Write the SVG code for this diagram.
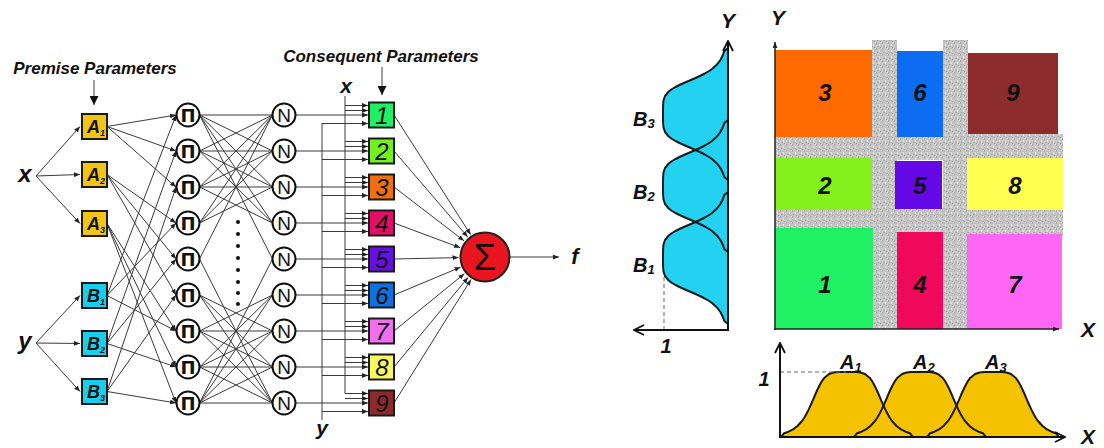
<svg xmlns="http://www.w3.org/2000/svg" width="1104" height="448" viewBox="0 0 1104 448">
<style>
text{font-family:"Liberation Sans",Arial,sans-serif;fill:#111}
.bi{font-weight:bold;font-style:italic}
.ln{stroke:#3a3a3a;stroke-width:1;fill:none}
.arr{marker-end:url(#ah)}
.circ{fill:#fff;stroke:#111;stroke-width:2}
.box{stroke:#1a1a1a;stroke-width:2}
.axis{stroke:#111;stroke-width:2;fill:none}
.pi{font-family:"DejaVu Sans",sans-serif;font-size:18px;font-weight:bold;text-anchor:middle}
.nn{font-size:19px;text-anchor:middle}
.num{font-size:24px;font-style:italic;text-anchor:middle}
.cell{font-size:24px;font-weight:bold;font-style:italic;text-anchor:middle}
.plab{font-size:18px;font-weight:bold;font-style:italic}
.sub{font-size:9px}
.gray{fill:url(#grain)}
.bfill{fill:#22d2f0;stroke:none}
.afill{fill:#f5c200;stroke:none}
.bstroke{fill:none;stroke:#1a1a1a;stroke-width:2;stroke-linejoin:round}
.dash{stroke:#666;stroke-width:1;stroke-dasharray:4 3;fill:none}
</style>
<defs>
<marker id="ah" viewBox="0 0 10 8" refX="10" refY="4" markerWidth="6" markerHeight="5" markerUnits="userSpaceOnUse" orient="auto"><path d="M0 0L10 4L0 8z" fill="#222"/></marker>
<marker id="big" viewBox="0 0 10 10" refX="10" refY="5" markerWidth="9" markerHeight="9" markerUnits="userSpaceOnUse" orient="auto"><path d="M0 0L10 5L0 10z" fill="#111"/></marker>
<marker id="open" viewBox="0 0 12 12" refX="11" refY="6" markerWidth="12" markerHeight="12" markerUnits="userSpaceOnUse" orient="auto"><path d="M1 1L11 6L1 11" fill="none" stroke="#111" stroke-width="1.8"/></marker>
<pattern id="grain" width="6" height="6" patternUnits="userSpaceOnUse">
<rect width="6" height="6" fill="#c6c6c6"/>
<rect x="0" y="0" width="1" height="2" fill="#a9a9a9"/>
<rect x="3" y="2" width="1" height="2" fill="#e4e4e4"/>
<rect x="1" y="4" width="2" height="1" fill="#b0b0b0"/>
<rect x="4" y="5" width="1" height="1" fill="#9e9e9e"/>
<rect x="5" y="0" width="1" height="1" fill="#ececec"/>
</pattern>
<path id="bell" d="M-66 0L-63 -3.7L-58.5 -5.3L-54 -7.6L-49.5 -11L-45 -16L-42.75 -19.3L-40.5 -23.2L-38.25 -27.6L-36 -32.5L-33.75 -37.7L-31.5 -43L-29.25 -48L-27 -52.5L-24.75 -56.4L-22.5 -59.3L-18 -63L-13.5 -64.5L-9 -64.9L-4.5 -65L0 -65L4.5 -65L9 -64.9L13.5 -64.5L18 -63L22.5 -59.3L24.75 -56.4L27 -52.5L29.25 -48L31.5 -43L33.75 -37.7L36 -32.5L38.25 -27.6L40.5 -23.2L42.75 -19.3L45 -16L49.5 -11L54 -7.6L58.5 -5.3L63 -3.7L66 0"/>
</defs>

<rect width="1104" height="448" fill="#fff"/>

<!-- labels -->
<g id="labels">
<text class="bi" x="95" y="74" font-size="17" text-anchor="middle">Premise Parameters</text>
<text class="bi" x="381" y="62" font-size="17" text-anchor="middle">Consequent Parameters</text>
<text class="bi" x="25" y="182" font-size="24" text-anchor="middle">x</text>
<text class="bi" x="25" y="349" font-size="24" text-anchor="middle">y</text>
<text class="bi" x="346" y="93" font-size="21" text-anchor="middle">x</text>
<text class="bi" x="322" y="435" font-size="21" text-anchor="middle">y</text>
<text class="bi" x="575" y="264" font-size="22" text-anchor="middle">f</text>
</g>

<!-- connectors -->
<g id="connectors">
<line class="ln" x1="94" y1="80" x2="94" y2="105" stroke-width="1.5" marker-end="url(#big)"/>
<line class="ln" x1="382" y1="67" x2="382" y2="95" stroke-width="1.5" marker-end="url(#big)"/>
<g class="ln arr">
<line x1="36" y1="176" x2="80" y2="126.5"/>
<line x1="36" y1="176" x2="80" y2="174.5"/>
<line x1="36" y1="176" x2="80" y2="223.5"/>
<line x1="36" y1="343" x2="80" y2="295.5"/>
<line x1="36" y1="343" x2="80" y2="343.5"/>
<line x1="36" y1="343" x2="80" y2="391.5"/>
<line x1="107" y1="126.5" x2="176" y2="115"/>
<line x1="107" y1="126.5" x2="176" y2="151"/>
<line x1="107" y1="126.5" x2="176" y2="187"/>
<line x1="107" y1="174.5" x2="176" y2="223"/>
<line x1="107" y1="174.5" x2="176" y2="259"/>
<line x1="107" y1="174.5" x2="176" y2="295"/>
<line x1="107" y1="223.5" x2="176" y2="331"/>
<line x1="107" y1="223.5" x2="176" y2="367"/>
<line x1="107" y1="223.5" x2="176" y2="403"/>
<line x1="107" y1="295.5" x2="176" y2="115"/>
<line x1="107" y1="295.5" x2="176" y2="223"/>
<line x1="107" y1="295.5" x2="176" y2="331"/>
<line x1="107" y1="343.5" x2="176" y2="151"/>
<line x1="107" y1="343.5" x2="176" y2="259"/>
<line x1="107" y1="343.5" x2="176" y2="367"/>
<line x1="107" y1="391.5" x2="176" y2="187"/>
<line x1="107" y1="391.5" x2="176" y2="295"/>
<line x1="107" y1="391.5" x2="176" y2="403"/>
</g>
<path class="ln" d="M199.5 115L272.5 115M199.5 115L272.5 151M199.5 115L272.5 187M199.5 151L272.5 115M199.5 151L272.5 151M199.5 151L272.5 187M199.5 187L272.5 115M199.5 187L272.5 151M199.5 187L272.5 187M199.5 223L272.5 115M199.5 223L272.5 151M199.5 223L272.5 187M199.5 115L272.5 223M199.5 151L272.5 223M199.5 187L272.5 223M199.5 259L272.5 115M199.5 115L272.5 259
M199.5 331L272.5 331M199.5 331L272.5 367M199.5 331L272.5 403M199.5 367L272.5 331M199.5 367L272.5 367M199.5 367L272.5 403M199.5 403L272.5 331M199.5 403L272.5 367M199.5 403L272.5 403M199.5 295L272.5 331M199.5 295L272.5 367M199.5 295L272.5 403M199.5 331L272.5 295M199.5 367L272.5 295M199.5 403L272.5 295M199.5 259L272.5 403M199.5 403L272.5 259"/>
<line class="ln" x1="345" y1="96" x2="345" y2="393.5"/>
<line class="ln" x1="322" y1="123.5" x2="322" y2="420"/>
<g class="ln arr">
<line x1="345" y1="105.5" x2="368" y2="105.5"/><line x1="345" y1="110.5" x2="368" y2="110.5"/><line x1="295.5" y1="115" x2="368" y2="115"/><line x1="322" y1="123.5" x2="368" y2="123.5"/>
<line x1="345" y1="141.5" x2="368" y2="141.5"/><line x1="345" y1="146.5" x2="368" y2="146.5"/><line x1="295.5" y1="151" x2="368" y2="151"/><line x1="322" y1="159.5" x2="368" y2="159.5"/>
<line x1="345" y1="177.5" x2="368" y2="177.5"/><line x1="345" y1="182.5" x2="368" y2="182.5"/><line x1="295.5" y1="187" x2="368" y2="187"/><line x1="322" y1="195.5" x2="368" y2="195.5"/>
<line x1="345" y1="213.5" x2="368" y2="213.5"/><line x1="345" y1="218.5" x2="368" y2="218.5"/><line x1="295.5" y1="223" x2="368" y2="223"/><line x1="322" y1="231.5" x2="368" y2="231.5"/>
<line x1="345" y1="249.5" x2="368" y2="249.5"/><line x1="345" y1="254.5" x2="368" y2="254.5"/><line x1="295.5" y1="259" x2="368" y2="259"/><line x1="322" y1="267.5" x2="368" y2="267.5"/>
<line x1="345" y1="285.5" x2="368" y2="285.5"/><line x1="345" y1="290.5" x2="368" y2="290.5"/><line x1="295.5" y1="295" x2="368" y2="295"/><line x1="322" y1="303.5" x2="368" y2="303.5"/>
<line x1="345" y1="321.5" x2="368" y2="321.5"/><line x1="345" y1="326.5" x2="368" y2="326.5"/><line x1="295.5" y1="331" x2="368" y2="331"/><line x1="322" y1="339.5" x2="368" y2="339.5"/>
<line x1="345" y1="357.5" x2="368" y2="357.5"/><line x1="345" y1="362.5" x2="368" y2="362.5"/><line x1="295.5" y1="367" x2="368" y2="367"/><line x1="322" y1="375.5" x2="368" y2="375.5"/>
<line x1="345" y1="393.5" x2="368" y2="393.5"/><line x1="345" y1="398.5" x2="368" y2="398.5"/><line x1="295.5" y1="403" x2="368" y2="403"/><line x1="322" y1="411.5" x2="368" y2="411.5"/>
<line x1="394" y1="115" x2="470.7" y2="234.7"/>
<line x1="394" y1="151" x2="467.7" y2="236.9"/>
<line x1="394" y1="187" x2="464" y2="240.8"/>
<line x1="394" y1="223" x2="460.2" y2="247.7"/>
<line x1="394" y1="259" x2="458.5" y2="257.6"/>
<line x1="394" y1="295" x2="460.5" y2="267.2"/>
<line x1="394" y1="331" x2="464.4" y2="273.7"/>
<line x1="394" y1="367" x2="468.1" y2="277.4"/>
<line x1="394" y1="403" x2="471" y2="279.5"/>
<line x1="510" y1="257" x2="559" y2="257"/>
</g>
</g>

<!-- premise nodes -->
<g id="A1"><rect class="box" x="82" y="114" width="25" height="25" fill="#f2c416"/><text class="plab" x="87" y="133">A<tspan class="sub" dy="3">1</tspan></text></g>
<g id="A2"><rect class="box" x="82" y="162" width="25" height="25" fill="#f2c416"/><text class="plab" x="87" y="181">A<tspan class="sub" dy="3">2</tspan></text></g>
<g id="A3"><rect class="box" x="82" y="211" width="25" height="25" fill="#f2c416"/><text class="plab" x="87" y="230">A<tspan class="sub" dy="3">3</tspan></text></g>
<g id="B1"><rect class="box" x="82" y="283" width="25" height="25" fill="#18d0ee"/><text class="plab" x="87" y="302">B<tspan class="sub" dy="3">1</tspan></text></g>
<g id="B2"><rect class="box" x="82" y="331" width="25" height="25" fill="#18d0ee"/><text class="plab" x="87" y="350">B<tspan class="sub" dy="3">2</tspan></text></g>
<g id="B3"><rect class="box" x="82" y="379" width="25" height="25" fill="#18d0ee"/><text class="plab" x="87" y="398">B<tspan class="sub" dy="3">3</tspan></text></g>

<!-- product nodes -->
<g id="P1"><circle class="circ" cx="188" cy="115" r="11.5"/><text class="pi" x="188" y="121.5">Π</text></g>
<g id="P2"><circle class="circ" cx="188" cy="151" r="11.5"/><text class="pi" x="188" y="157.5">Π</text></g>
<g id="P3"><circle class="circ" cx="188" cy="187" r="11.5"/><text class="pi" x="188" y="193.5">Π</text></g>
<g id="P4"><circle class="circ" cx="188" cy="223" r="11.5"/><text class="pi" x="188" y="229.5">Π</text></g>
<g id="P5"><circle class="circ" cx="188" cy="259" r="11.5"/><text class="pi" x="188" y="265.5">Π</text></g>
<g id="P6"><circle class="circ" cx="188" cy="295" r="11.5"/><text class="pi" x="188" y="301.5">Π</text></g>
<g id="P7"><circle class="circ" cx="188" cy="331" r="11.5"/><text class="pi" x="188" y="337.5">Π</text></g>
<g id="P8"><circle class="circ" cx="188" cy="367" r="11.5"/><text class="pi" x="188" y="373.5">Π</text></g>
<g id="P9"><circle class="circ" cx="188" cy="403" r="11.5"/><text class="pi" x="188" y="409.5">Π</text></g>

<g id="dots" fill="#111"><circle cx="238" cy="222" r="2"/><circle cx="238" cy="234" r="2"/><circle cx="238" cy="246" r="2"/><circle cx="238" cy="258" r="2"/><circle cx="238" cy="270" r="2"/><circle cx="238" cy="282" r="2"/><circle cx="238" cy="293" r="2"/><circle cx="238" cy="304" r="2"/></g>

<!-- normalisation nodes -->
<g id="N1"><circle class="circ" cx="284" cy="115" r="11.5"/><text class="nn" x="284" y="122">N</text></g>
<g id="N2"><circle class="circ" cx="284" cy="151" r="11.5"/><text class="nn" x="284" y="158">N</text></g>
<g id="N3"><circle class="circ" cx="284" cy="187" r="11.5"/><text class="nn" x="284" y="194">N</text></g>
<g id="N4"><circle class="circ" cx="284" cy="223" r="11.5"/><text class="nn" x="284" y="230">N</text></g>
<g id="N5"><circle class="circ" cx="284" cy="259" r="11.5"/><text class="nn" x="284" y="266">N</text></g>
<g id="N6"><circle class="circ" cx="284" cy="295" r="11.5"/><text class="nn" x="284" y="302">N</text></g>
<g id="N7"><circle class="circ" cx="284" cy="331" r="11.5"/><text class="nn" x="284" y="338">N</text></g>
<g id="N8"><circle class="circ" cx="284" cy="367" r="11.5"/><text class="nn" x="284" y="374">N</text></g>
<g id="N9"><circle class="circ" cx="284" cy="403" r="11.5"/><text class="nn" x="284" y="410">N</text></g>

<!-- consequent nodes -->
<g id="C1"><rect class="box" x="369" y="102.5" width="25" height="25" fill="#20f064"/><text class="num" x="382" y="124">1</text></g>
<g id="C2"><rect class="box" x="369" y="138.5" width="25" height="25" fill="#74f020"/><text class="num" x="382" y="160">2</text></g>
<g id="C3"><rect class="box" x="369" y="174.5" width="25" height="25" fill="#f07010"/><text class="num" x="382" y="196">3</text></g>
<g id="C4"><rect class="box" x="369" y="210.5" width="25" height="25" fill="#e21064"/><text class="num" x="382" y="232">4</text></g>
<g id="C5"><rect class="box" x="369" y="246.5" width="25" height="25" fill="#6410e0"/><text class="num" x="382" y="268">5</text></g>
<g id="C6"><rect class="box" x="369" y="282.5" width="25" height="25" fill="#1070e0"/><text class="num" x="382" y="304">6</text></g>
<g id="C7"><rect class="box" x="369" y="318.5" width="25" height="25" fill="#f070f0"/><text class="num" x="382" y="340">7</text></g>
<g id="C8"><rect class="box" x="369" y="354.5" width="25" height="25" fill="#f8f860"/><text class="num" x="382" y="376">8</text></g>
<g id="C9"><rect class="box" x="369" y="390.5" width="25" height="25" fill="#8c2a2a"/><text class="num" x="382" y="412">9</text></g>

<!-- sum node -->
<g id="sum"><circle cx="485" cy="257" r="24.5" fill="#e8141e" stroke="#222" stroke-width="2"/><text x="485" y="270" font-size="36" text-anchor="middle" fill="#2a0000">Σ</text></g>

<!-- B membership plot -->
<g id="plotB">
<use href="#bell" class="bfill" transform="matrix(0 1 1 0 728 114)"/>
<use href="#bell" class="bfill" transform="matrix(0 1 1 0 728 186)"/>
<use href="#bell" class="bfill" transform="matrix(0 1 1 0 728 258)"/>
<use href="#bell" class="bstroke" transform="matrix(0 1 1 0 728 114)"/>
<use href="#bell" class="bstroke" transform="matrix(0 1 1 0 728 186)"/>
<use href="#bell" class="bstroke" transform="matrix(0 1 1 0 728 258)"/>
<line class="dash" x1="664" y1="330" x2="664" y2="274"/>
<line class="axis" x1="728" y1="331" x2="728" y2="41" marker-end="url(#open)"/>
<line class="axis" x1="729" y1="330" x2="634" y2="330" marker-end="url(#open)"/>
<text class="bi" x="728" y="28" font-size="21" text-anchor="middle">Y</text>
<text class="bi" x="666" y="353" font-size="20" text-anchor="middle">1</text>
<text class="bi" x="633" y="126" font-size="20">B<tspan font-size="13" dy="2">3</tspan></text>
<text class="bi" x="633" y="199" font-size="20">B<tspan font-size="13" dy="2">2</tspan></text>
<text class="bi" x="633" y="272" font-size="20">B<tspan font-size="13" dy="2">1</tspan></text>
</g>

<!-- rule grid -->
<g id="grid">
<rect class="gray" x="872" y="40" width="25" height="289"/>
<rect class="gray" x="943" y="40" width="25" height="289"/>
<rect class="gray" x="775" y="134" width="288" height="26"/>
<rect class="gray" x="775" y="208" width="288" height="27"/>
<rect x="775" y="50" width="97" height="87" fill="#ff6a00"/>
<rect x="897" y="51" width="46" height="86" fill="#0c6cf2"/>
<rect x="968" y="53" width="90" height="81" fill="#8c2c2c"/>
<rect x="775" y="158" width="97" height="52" fill="#84f01c"/>
<rect x="895" y="161" width="47" height="48" fill="#6408e6"/>
<rect x="967" y="158" width="96" height="52" fill="#ffff50"/>
<rect x="775" y="228" width="98" height="101" fill="#20f064"/>
<rect x="897" y="232" width="46" height="97" fill="#f0085a"/>
<rect x="967" y="234" width="95" height="95" fill="#ff66f6"/>
<text class="cell" x="825" y="101">3</text>
<text class="cell" x="920" y="101">6</text>
<text class="cell" x="1013" y="101">9</text>
<text class="cell" x="825" y="194">2</text>
<text class="cell" x="920" y="194">5</text>
<text class="cell" x="1015" y="194">8</text>
<text class="cell" x="825" y="293">1</text>
<text class="cell" x="920" y="293">4</text>
<text class="cell" x="1015" y="293">7</text>
<line x1="775" y1="330" x2="775" y2="42" stroke="#222" stroke-width="1.5" marker-end="url(#ah)"/>
<line x1="774" y1="329" x2="1059" y2="329" stroke="#222" stroke-width="1.5" marker-end="url(#ah)"/>
<text class="bi" x="778" y="25" font-size="21" text-anchor="middle">Y</text>
<text class="bi" x="1088" y="337" font-size="21" text-anchor="middle">X</text>
</g>

<!-- A membership plot -->
<g id="plotA">
<use href="#bell" class="afill" transform="translate(847 437)"/>
<use href="#bell" class="afill" transform="translate(920 437)"/>
<use href="#bell" class="afill" transform="translate(993 437)"/>
<use href="#bell" class="bstroke" transform="translate(847 437)"/>
<use href="#bell" class="bstroke" transform="translate(920 437)"/>
<use href="#bell" class="bstroke" transform="translate(993 437)"/>
<line class="dash" x1="780" y1="372" x2="846" y2="372"/>
<line class="axis" x1="780" y1="438" x2="780" y2="343" marker-end="url(#open)"/>
<line class="axis" x1="779" y1="437" x2="1065" y2="437" marker-end="url(#open)"/>
<text class="bi" x="764" y="386" font-size="20" text-anchor="middle">1</text>
<text class="bi" x="840" y="369" font-size="20">A<tspan font-size="13" dy="3">1</tspan></text>
<text class="bi" x="913" y="369" font-size="20">A<tspan font-size="13" dy="3">2</tspan></text>
<text class="bi" x="985" y="369" font-size="20">A<tspan font-size="13" dy="3">3</tspan></text>
<text class="bi" x="1088" y="444" font-size="21" text-anchor="middle">X</text>
</g>
</svg>
